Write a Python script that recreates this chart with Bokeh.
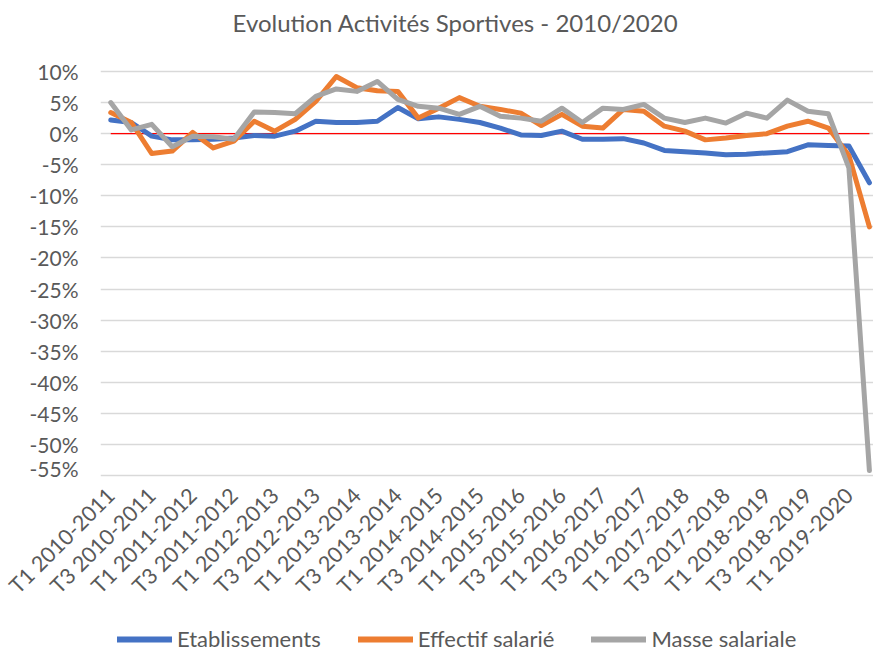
import math
from bokeh.plotting import figure
from bokeh.layouts import column
from bokeh.core.properties import value
from bokeh.models import Range1d, FixedTicker, PrintfTickFormatter, Legend, LegendItem
from bokeh.embed import file_html
from bokeh.resources import INLINE

seasons = ["2010-2011", "2011-2012", "2012-2013", "2013-2014", "2014-2015",
           "2015-2016", "2016-2017", "2017-2018", "2018-2019", "2019-2020"]
quarters = ["T1", "T2", "T3", "T4"]
categories = [f"{q} {s}" for s in seasons for q in quarters][:38]

etablissements = [2.2, 1.8, -0.4, -1.0, -1.0, -0.9, -0.7, -0.3, -0.4, 0.4,
                  2.0, 1.8, 1.8, 2.0, 4.2, 2.4, 2.7, 2.3, 1.8, 0.9,
                  -0.2, -0.3, 0.4, -0.9, -0.9, -0.8, -1.5, -2.7, -2.9, -3.1,
                  -3.4, -3.3, -3.1, -2.9, -1.8, -1.9, -2.0, -7.9]
effectif = [3.4, 1.8, -3.2, -2.8, 0.2, -2.3, -1.2, 2.0, 0.4, 2.3,
            5.2, 9.2, 7.4, 6.9, 6.8, 2.5, 4.1, 5.8, 4.4, 3.9,
            3.3, 1.3, 3.1, 1.2, 0.9, 3.9, 3.6, 1.2, 0.4, -1.0,
            -0.7, -0.3, 0.0, 1.2, 2.0, 0.9, -3.5, -15.0]
masse = [5.0, 0.6, 1.5, -2.1, -0.4, -0.5, -0.9, 3.5, 3.4, 3.2,
         6.0, 7.2, 6.8, 8.4, 5.5, 4.4, 4.1, 3.1, 4.4, 2.8,
         2.5, 2.0, 4.1, 1.8, 4.1, 3.9, 4.7, 2.5, 1.8, 2.5,
         1.7, 3.3, 2.5, 5.4, 3.6, 3.2, -5.5, -54.2]
y_ticks = [10, 5, 0, -5, -10, -15, -20, -25, -30, -35, -40, -45, -50, -55]
title_text = "Evolution Activités Sportives - 2010/2020"
series_names = ["Etablissements", "Effectif salarié", "Masse salariale"]
series_colors = ["#4472C4", "#ED7D31", "#A5A5A5"]
series_values = [etablissements, effectif, masse]

x = list(range(len(categories)))
tick_idx = x[::2]
tick_labels = [categories[i] for i in tick_idx]

FONT = "Lato"
TXT = "#595959"
W = 873
H0, H1, H2 = 58, 422, 172
LEFT = 100
X0, X1 = -0.5, 37.2
# the axis span 10 .. -55 should sit 13 px below the chart's top edge and 5 px above its bottom
PX = 404 / 65.0
Y0, Y1 = -55 - 5 / PX, 10 + 13 / PX


def bare(fig):
    fig.outline_line_color = None
    fig.background_fill_color = "white"
    fig.border_fill_color = "white"
    fig.xgrid.grid_line_color = None
    fig.ygrid.grid_line_color = None
    fig.frame_align = False
    return fig


# --- title strip
p0 = bare(figure(width=W, height=H0, output_backend="svg", toolbar_location=None,
                 title=None, x_range=Range1d(0, W), y_range=Range1d(0, H0),
                 x_axis_location=None, y_axis_location=None, min_border=0))
p0.text(x=[455], y=[H0 - 22], text=[title_text], text_align="center",
        text_baseline="middle", text_font_size="24px", text_color=TXT,
        text_font=value(FONT))

# --- main chart
p = bare(figure(width=W, height=H1, output_backend="svg", toolbar_location=None,
                title=None, x_range=Range1d(X0, X1), y_range=Range1d(Y0, Y1),
                x_axis_location=None,
                min_border_left=LEFT, min_border_right=0, min_border_top=0,
                min_border_bottom=0))
p.ygrid.grid_line_color = "#d9d9d9"
p.ygrid.grid_line_width = 1.3
p.yaxis.ticker = FixedTicker(ticks=y_ticks)
p.yaxis.formatter = PrintfTickFormatter(format="%d%%")
p.yaxis.axis_line_color = None
p.yaxis.major_tick_line_color = None
p.yaxis.minor_tick_line_color = None
p.yaxis.major_tick_out = 0
p.yaxis.major_tick_in = 0
p.yaxis.major_label_standoff = 22
p.yaxis.major_label_text_font = FONT
p.yaxis.major_label_text_font_size = "21px"
p.yaxis.major_label_text_color = TXT

p.line([x[0], x[-1]], [0, 0], line_color="#ff0000", line_width=1.3)
for vals, col in zip(series_values, series_colors):
    p.line(x, vals, line_color=col, line_width=5, line_join="round", line_cap="round")

# --- category labels + legend strip (same x scale as the chart)
scale = (W - LEFT) / (X1 - X0)
p2 = bare(figure(width=W, height=H2, output_backend="svg", toolbar_location=None,
                 title=None, x_range=Range1d(X0 - LEFT / scale, X1), y_range=Range1d(0, H2),
                 x_axis_location=None, y_axis_location=None, min_border=0))
p2.text(x=tick_idx, y=[H2 - 11] * len(tick_idx), text=tick_labels, angle=math.pi / 4,
        text_align="right", text_baseline="middle", text_font_size="21.5px",
        text_color=TXT, text_font=value(FONT))

# legend swatches: the series themselves, drawn on a range that keeps them out of view
p2.extra_y_ranges = {"hidden": Range1d(200, 300)}
leg_renderers = [p2.line(x, vals, line_color=c, line_width=6, line_cap="round",
                         y_range_name="hidden")
                 for vals, c in zip(series_values, series_colors)]
legend = Legend(items=[LegendItem(label=n, renderers=[r])
                       for n, r in zip(series_names, leg_renderers)],
                orientation="horizontal", location=(117, 0),
                label_text_font=FONT, label_text_font_size="22px", label_text_color=TXT,
                glyph_width=55, glyph_height=22, label_standoff=5, spacing=37,
                padding=0, margin=0, border_line_color=None, background_fill_alpha=0)
p2.add_layout(legend, "center")

layout = column(p0, p, p2, spacing=0)
open("out.html", "w").write(file_html(layout, INLINE))
